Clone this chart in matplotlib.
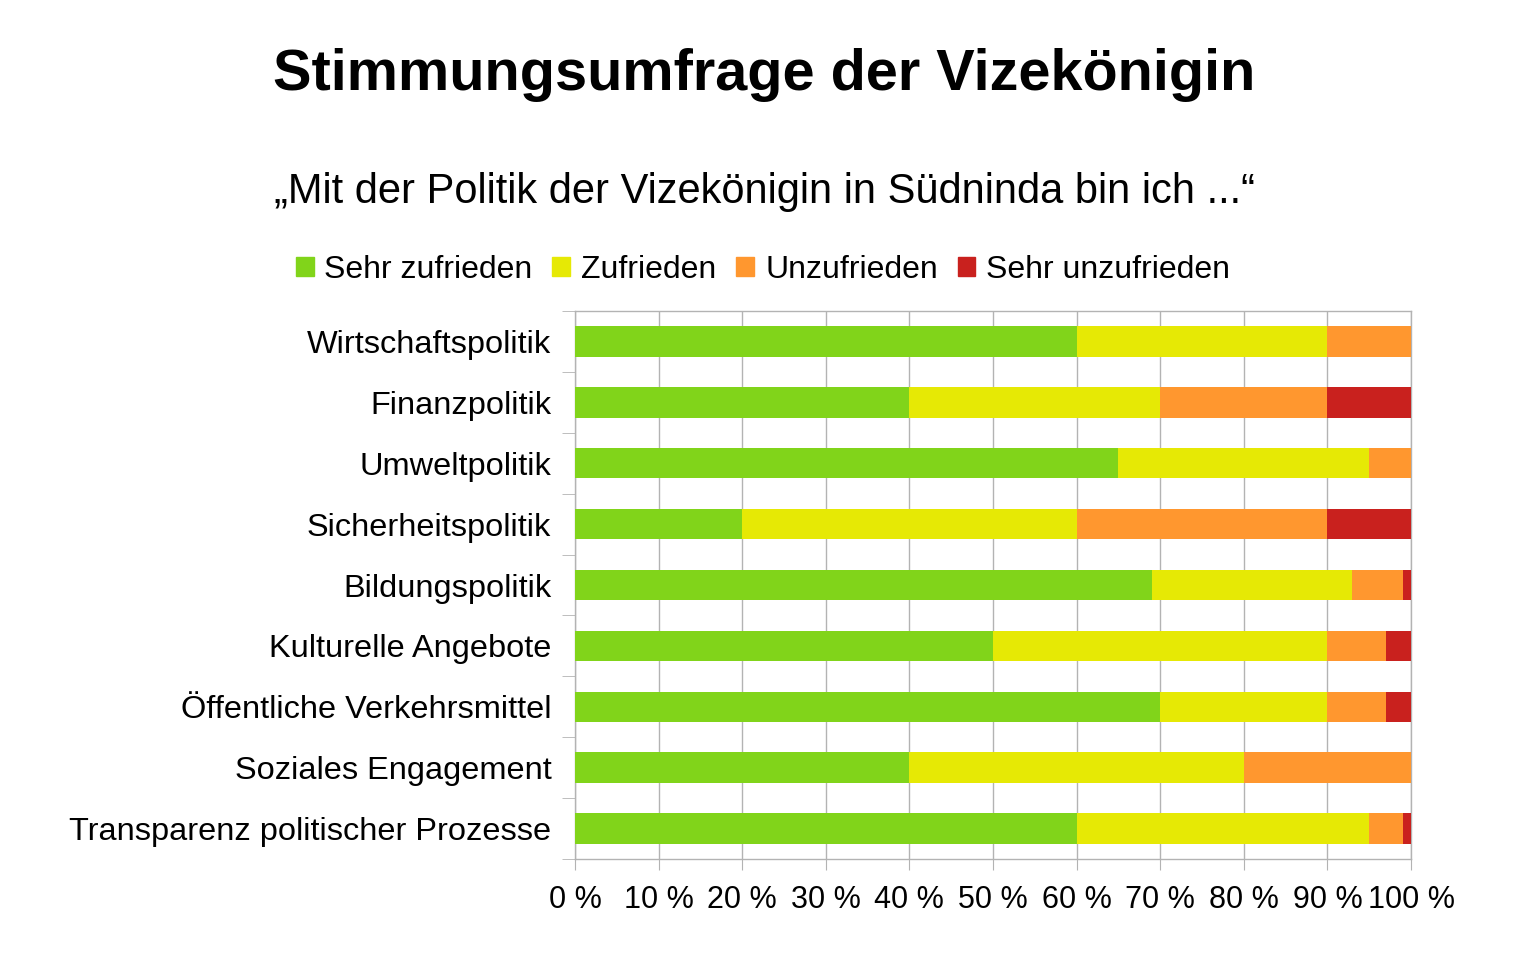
import numpy as np
import matplotlib
matplotlib.use('Agg')
import matplotlib.pyplot as plt
from matplotlib.patches import Patch
import matplotlib.ticker as mtick

plt.rcParams['font.family'] = ['Liberation Sans', 'DejaVu Sans']

#%% data
categories = ['Wirtschaftspolitik', 'Finanzpolitik', 'Umweltpolitik',
              'Sicherheitspolitik', 'Bildungspolitik', 'Kulturelle Angebote',
              'Öffentliche Verkehrsmittel', 'Soziales Engagement',
              'Transparenz politischer Prozesse']

series_names = ['Sehr zufrieden', 'Zufrieden', 'Unzufrieden', 'Sehr unzufrieden']

sehr_zufrieden = [60, 40, 65, 20, 69, 50, 70, 40, 60]
zufrieden = [30, 30, 30, 40, 24, 40, 20, 40, 35]
unzufrieden = [10, 20, 5, 30, 6, 7, 7, 20, 4]
sehr_unzufrieden = [0, 10, 0, 10, 1, 3, 3, 0, 1]

colors = ['#81d41a', '#e6e905', '#ff972f', '#c9211e']

title = 'Stimmungsumfrage der Vizekönigin'
subtitle = '„Mit der Politik der Vizekönigin in Südninda bin ich ...“'

#%% plot
fig = plt.figure(figsize=(15.13, 9.66), dpi=100)
ax = fig.add_axes([575/1513, 1-859/966, (1411-575)/1513, (859-311)/966])

grid_col = '#b3b3b3'
y = np.arange(len(categories))
left = np.zeros(len(categories))
for name, vals, col in zip(series_names,
                           [sehr_zufrieden, zufrieden, unzufrieden, sehr_unzufrieden],
                           colors):
    vals = np.array(vals, dtype=float)
    ax.barh(y, vals, left=left, height=0.5, color=col, label=name, zorder=3)
    left += vals

ax.set_xlim(0, 100)
ax.set_ylim(len(categories) - 0.5, -0.5)

ax.xaxis.set_major_locator(mtick.MultipleLocator(10))
ax.xaxis.set_major_formatter(mtick.FuncFormatter(lambda v, p: '%d %%' % v))
ax.grid(axis='x', color=grid_col, lw=1, zorder=0)

ax.set_yticks(y)
ax.set_yticklabels(categories)
ax.set_yticks(np.arange(len(categories) + 1) - 0.5, minor=True)

ax.tick_params(axis='x', length=8, color=grid_col, labelsize=22, pad=11)
ax.tick_params(axis='y', which='major', length=0, labelsize=23.4, pad=17)
ax.tick_params(axis='y', which='minor', length=9.5, color=grid_col)

for s in ax.spines.values():
    s.set_color(grid_col)
    s.set_linewidth(1)

fig.text(0.505, 1-75/966, title, ha='center', va='center',
         fontsize=41.5, fontweight='bold')
fig.text(0.505, 1-192/966, subtitle, ha='center', va='center', fontsize=30)

handles = [Patch(color=c, label=n) for c, n in zip(colors, series_names)]
fig.legend(handles=handles, loc='center', bbox_to_anchor=(763/1513, 1-270/966),
           ncol=4, frameon=False, fontsize=23, handlelength=0.56,
           handleheight=0.56, handletextpad=0.34, columnspacing=0.62)

plt.savefig('out.png', dpi=100)
